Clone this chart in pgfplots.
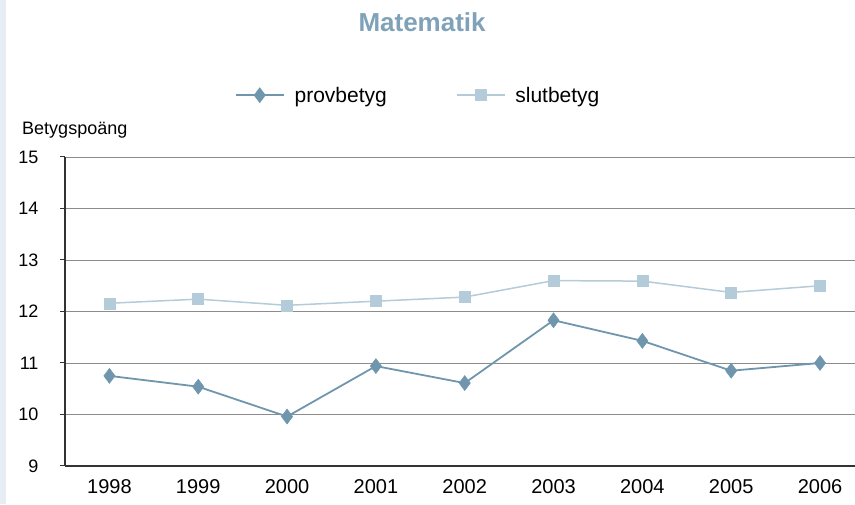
\documentclass[border=0pt]{standalone}
\usepackage{fontspec}
\setmainfont{Liberation Sans}
\usepackage{pgfplots}
\pgfplotsset{compat=1.18}

\definecolor{prov}{HTML}{7096AE}
\definecolor{slut}{HTML}{B4CBD9}
\definecolor{titel}{HTML}{7FA2B8}
\definecolor{kant}{HTML}{E6EDF5}

\begin{document}
\begin{tikzpicture}
\path[use as bounding box] (0pt,0pt) rectangle (855pt,504pt);
\fill[kant] (0pt,0pt) rectangle (6pt,504pt);
\begin{axis}[
  at={(65pt,38pt)}, anchor=south west,
  width=790pt, height=309pt, scale only axis,
  clip=false,
  xmin=-0.5, xmax=8.394,
  ymin=9, ymax=15,
  ytick={9,...,15},
  xtick={0,...,8},
  xticklabels={1998,1999,2000,2001,2002,2003,2004,2005,2006},
  axis x line*=bottom, axis y line*=left,
  axis line style={draw=black!80, line width=1.3pt, -},
  ymajorgrids,
  major grid style={draw=black!45, line width=0.9pt},
  tick align=outside,
  ytick style={draw=black!80, line width=1pt},
  major tick length=5pt,
  xtick style={draw=none},
  extra x ticks={0.5,1.5,...,7.5},
  extra x tick labels={},
  extra x tick style={grid=none, major tick length=6pt, tick style={draw=black!80, line width=1.2pt}},
  /pgf/number format/assume math mode=true,
  yticklabel style={font=\fontsize{18}{20}\selectfont, text=black, xshift=-18pt},
  xticklabel style={font=\fontsize{20}{22}\selectfont, text=black, yshift=-5pt},
  title={\bfseries Matematik},
  title style={font=\fontsize{26}{28}\selectfont, text=titel, at={(rel axis cs:0.452,1.418)}, anchor=center},
  legend columns=2,
  legend style={draw=none, fill=none, at={(rel axis cs:0.447,1.2)}, anchor=center,
    font=\fontsize{21}{23}\selectfont, text=black,
    /tikz/every even column/.append style={column sep=67pt}},
  legend image code/.code={\draw[mark repeat=2, mark phase=2] plot coordinates {(0pt,0pt) (24pt,0pt) (48pt,0pt)}; \path (56pt,0pt);},
]
\addplot[prov, line width=1.8pt, mark=diamond*, mark size=7.5pt, mark options={draw=prov, fill=prov, line width=0.5pt}]
  coordinates {(0,10.75) (1,10.54) (2,9.96) (3,10.94) (4,10.61) (5,11.83) (6,11.43) (7,10.85) (8,11.0)};
\addlegendentry{provbetyg}
\addplot[slut, line width=1.5pt, mark=square*, mark size=5.5pt, mark options={draw=slut, fill=slut, line width=0.5pt}]
  coordinates {(0,12.16) (1,12.24) (2,12.12) (3,12.2) (4,12.28) (5,12.6) (6,12.59) (7,12.37) (8,12.5)};
\addlegendentry{slutbetyg}
\node[anchor=west, inner sep=0pt, font=\fontsize{18}{20}\selectfont, text=black] at (rel axis cs:-0.0544,1.087) {Betygspoäng};
\end{axis}
\end{tikzpicture}
\end{document}
